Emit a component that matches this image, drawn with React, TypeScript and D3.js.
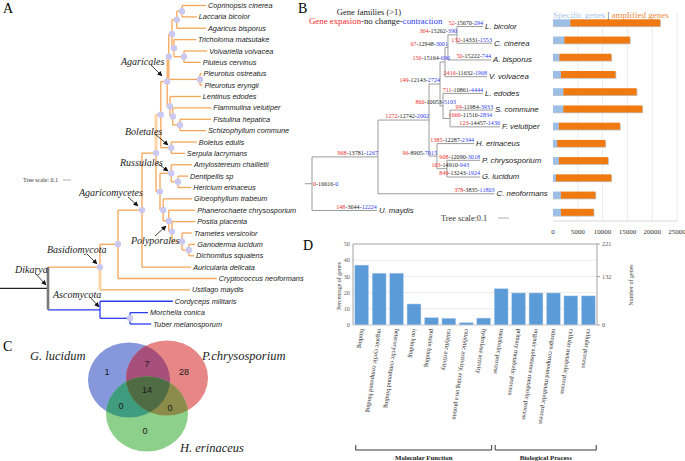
import React from 'react';
import * as d3 from 'd3';

const SERIF = "'Liberation Serif', 'Times New Roman', serif";
const SANS = "'Liberation Sans', Arial, sans-serif";

type Row = [string, string | null, number];

// ---------------- Panel A: phylogeny (id, parent, depth in tree units) ----------------
const treeA: Row[] = [
  ['root', null, 0],
  ['Dikarya', 'root', 0.6],
  ['Basidiomycota', 'Dikarya', 1.25],
  ['bN1', 'Basidiomycota', 1.475],
  ['Agaricomycetes', 'bN1', 1.775],
  ['aN156', 'Agaricomycetes', 1.95],
  ['aN161', 'aN156', 2.01],
  ['Agaricales', 'aN161', 2.09],
  ['agN169', 'Agaricales', 2.11],
  ['agN172', 'agN169', 2.15],
  ['agN177', 'agN172', 2.21],
  ['agN182', 'agN177', 2.275],
  ['Coprinopsis cinerea', 'agN182', 2.575],
  ['Laccaria bicolor', 'agN182', 2.46],
  ['Agaricus bisporus', 'agN177', 2.575],
  ['agN174', 'agN172', 2.175],
  ['Tricholoma matsutake', 'agN174', 2.45],
  ['agN184', 'agN174', 2.3],
  ['Volvariella volvacea', 'agN184', 2.59],
  ['Pluteus cervinus', 'agN184', 2.51],
  ['pleuro', 'agN169', 2.5],
  ['Pleurotus ostreatus', 'pleuro', 2.52],
  ['Pleurotus eryngii', 'pleuro', 2.53],
  ['agN170', 'Agaricales', 2.125],
  ['Lentinus edodes', 'agN170', 2.51],
  ['agN173', 'agN170', 2.16],
  ['Flammulina velutiper', 'agN173', 2.64],
  ['agN180', 'agN173', 2.25],
  ['Fistulina hepatica', 'agN180', 2.64],
  ['Schizophyllum commune', 'agN180', 2.575],
  ['Boletales', 'aN161', 2.14],
  ['Boletus edulis', 'Boletales', 2.46],
  ['Serpula lacrymans', 'Boletales', 2.31],
  ['aN160', 'aN156', 2.0],
  ['Russulales', 'aN160', 2.14],
  ['Amylostereum chailletii', 'Russulales', 2.4],
  ['ruN178', 'Russulales', 2.225],
  ['Dentipellis sp', 'ruN178', 2.35],
  ['Hericium erinaceus', 'ruN178', 2.39],
  ['poN163', 'aN160', 2.04],
  ['Gloeophyllum trabeum', 'poN163', 2.4],
  ['Polyporales', 'poN163', 2.11],
  ['Phanerochaete chrysosporium', 'Polyporales', 2.44],
  ['poN172', 'Polyporales', 2.15],
  ['Postia placenta', 'poN172', 2.44],
  ['poN182', 'poN172', 2.275],
  ['Trametes versicolor', 'poN182', 2.4],
  ['poN189', 'poN182', 2.36],
  ['Ganoderma lucidum', 'poN189', 2.44],
  ['Dichomitus squalens', 'poN189', 2.425],
  ['Auricularia delicata', 'Agaricomycetes', 2.39],
  ['Cryptococcus neoformans', 'bN1', 2.71],
  ['Ustilago maydis', 'Basidiomycota', 2.375],
  ['Ascomycota', 'Dikarya', 1.25],
  ['Cordyceps militaris', 'Ascomycota', 2.16],
  ['ascN', 'Ascomycota', 1.625],
  ['Morchella conica', 'ascN', 1.85],
  ['Tuber melanosporum', 'ascN', 1.89],
];
const noDotA = ['root', 'Dikarya', 'Ascomycota'];
const cladeLabels = ['Agaricales', 'Boletales', 'Russulales', 'Agaricomycetes', 'Polyporales', 'Basidiomycota', 'Dikarya', 'Ascomycota'];
// annotation layout: [textX, textY, arrowX1, arrowY1, arrowX2, arrowY2]
const cladeLabelPos: number[][] = [
  [121, 61, 151, 65, 162, 76],
  [125, 131, 155, 134, 168, 145],
  [120, 162, 157, 163, 168, 171],
  [79, 192, 128, 197, 138, 206],
  [131, 240, 155, 236, 166, 226],
  [47, 249, 87, 254, 97, 264],
  [15, 269, 35, 273, 46, 285],
  [53, 294, 90, 297, 99, 307],
];

// ---------------- Panel B: gene family tree (id, parent, depth) ----------------
const treeBRows: Row[] = [
  ['rootB', null, 0],
  ['bN968', 'rootB', 0.6],
  ['bN1272', 'bN968', 1.064],
  ['bN149', 'bN1272', 1.164],
  ['bN156', 'bN149', 1.209],
  ['bN67', 'bN156', 1.236],
  ['bN364', 'bN67', 1.318],
  ['L. bicolor', 'bN364', 1.555],
  ['C. cinerea', 'bN364', 1.636],
  ['A. bisporus', 'bN67', 1.627],
  ['V. volvacea', 'bN156', 1.591],
  ['bN860', 'bN149', 1.191],
  ['L. edodes', 'bN860', 1.555],
  ['bN1666', 'bN860', 1.255],
  ['S. commune', 'bN1666', 1.645],
  ['F. velutiper', 'bN1666', 1.709],
  ['bN96', 'bN1272', 1.136],
  ['H. erinaceus', 'bN96', 1.473],
  ['bN163', 'bN96', 1.227],
  ['P. chrysosporium', 'bN163', 1.527],
  ['G. lucidum', 'bN163', 1.527],
  ['C. neoformans', 'bN968', 1.66],
  ['U. maydis', 'rootB', 0.59],
];
const geneGain: Record<string, number> = {
  rootB: 0, bN968: 968, bN1272: 1272, bN149: 149, bN156: 156, bN67: 67, bN364: 364,
  'L. bicolor': 52, 'C. cinerea': 132, 'A. bisporus': 50, 'V. volvacea': 2416, bN860: 860,
  'L. edodes': 711, bN1666: 1666, 'S. commune': 99, 'F. velutiper': 123, bN96: 96,
  'H. erinaceus': 1385, bN163: 163, 'P. chrysosporium': 908, 'G. lucidum': 849,
  'C. neoformans': 378, 'U. maydis': 148,
};
const geneSame: Record<string, number> = {
  rootB: 16016, bN968: 13781, bN1272: 12742, bN149: 12143, bN156: 15164, bN67: 12948, bN364: 15262,
  'L. bicolor': 15670, 'C. cinerea': 14331, 'A. bisporus': 15222, 'V. volvacea': 11632, bN860: 10053,
  'L. edodes': 10861, bN1666: 11516, 'S. commune': 11984, 'F. velutiper': 14457, bN96: 8905,
  'H. erinaceus': 12287, bN163: 14910, 'P. chrysosporium': 12090, 'G. lucidum': 13243,
  'C. neoformans': 3835, 'U. maydis': 3644,
};
const geneLoss: Record<string, number> = {
  rootB: 0, bN968: 1267, bN1272: 2002, bN149: 2724, bN156: 696, bN67: 3001, bN364: 390,
  'L. bicolor': 294, 'C. cinerea': 1553, 'A. bisporus': 744, 'V. volvacea': 1968, bN860: 5103,
  'L. edodes': 4444, bN1666: 2834, 'S. commune': 3933, 'F. velutiper': 1436, bN96: 7015,
  'H. erinaceus': 2344, bN163: 943, 'P. chrysosporium': 3018, 'G. lucidum': 1924,
  'C. neoformans': 11803, 'U. maydis': 12224,
};
const bLabelShift: Record<string, number> = { bN860: 13, bN1666: 42, bN163: 22, bN156: 5 };

// Panel B bars
const barSpecies = ['L. bicolor', 'C. cinerea', 'A. bisporus', 'V. volvacea', 'L. edodes', 'S. commune',
  'F. velutiper', 'H. erinaceus', 'P. chrysosporium', 'G. lucidum', 'C. neoformans', 'U. maydis'];
const specificGenes = [3500, 2300, 1300, 1600, 2100, 2100, 1200, 850, 1200, 600, 1600, 1600];
const amplifiedGenes = [18100, 13200, 10450, 11000, 14750, 15900, 12300, 9700, 9900, 11150, 6950, 6600];
const barTicks = [0, 5000, 10000, 15000, 20000, 25000];

// ---------------- Panel C: Venn ----------------
const vennSets = ['G. lucidum', 'P.chrysosporium', 'H. erinaceus'];
const vennRegions = ['G', 'P', 'GP', 'GPH', 'GH', 'PH', 'H'];
const vennCounts = [1, 28, 7, 14, 0, 0, 0];
const vennLabelPos: number[][] = [[107, 372], [184, 372], [147, 364], [147, 390], [121, 406], [170, 408], [145, 431]];

// ---------------- Panel D: GO enrichment ----------------
const goTerms = ['binding', 'organic cyclic compound binding', 'heterocyclic compound binding', 'ion binding',
  'protein binding', 'catalytic activity', 'catalytic activity, acting on a protein', 'hydrolase activity',
  'metabolic process', 'primary metabolic process', 'organic substance metabolic process',
  'nitrogen compound metabolic process', 'cellular metabolic process', 'cellular process'];
const goPercent = [37, 32, 32, 13, 4.6, 4.2, 1.5, 4.3, 22.5, 19.8, 19.8, 19.8, 18, 18];
const goGroups = ['Molecular Function', 'Biological Process'];
const goGroupSizes = [8, 6];
const leftTicks = [0, 10, 20, 30, 40, 50];
const rightTicks = [0, 132, 221];

function buildTree(rows: Row[], xs: (v: number) => number, yRange: [number, number]) {
  const root: any = d3.stratify<Row>().id(d => d[0]).parentId(d => d[1])(rows);
  const leaves = root.leaves();
  const ys = d3.scalePoint<string>().domain(leaves.map((l: any) => l.id)).range(yRange);
  root.eachAfter((n: any) => {
    n.px = xs(n.data[2]);
    if (!n.children) n.py = ys(n.id);
    else n.py = (n.children[0].py + n.children[n.children.length - 1].py) / 2;
  });
  return root;
}

export default function App() {
  // ---- A ----
  const xA = d3.scaleLinear().domain([0, 3]).range([0, 240]);
  const rootA = buildTree(treeA, xA, [5.5, 324]);
  const nodesA: any[] = rootA.descendants();
  const ORANGE = '#f5a658';
  const BLUE = '#2b3ef2';
  const colA = (n: any) => (n.ancestors().some((a: any) => a.id === 'Ascomycota') ? BLUE : ORANGE);

  // ---- B ----
  const xB = d3.scaleLinear().domain([0, 1]).range([312, 422]);
  const rootB = buildTree(treeBRows, xB, [26.5, 210.5]);
  const nodesB: any[] = rootB.descendants();
  const xBar = d3.scaleLinear().domain([0, 25000]).range([553, 677]);
  const yBar = d3.scalePoint<string>().domain(barSpecies).range([22.8, 212.3]);

  // ---- D ----
  const xD = d3.scaleBand<string>().domain(goTerms).range([353, 597]).paddingInner(0.2).paddingOuter(0.1);
  const yD = d3.scaleLinear().domain([0, 50]).range([325, 244]);
  const yD2 = d3.scaleLinear().domain([0, 221]).range([325, 244]);

  const vennColors: Record<string, string> = {
    G: '#8697db', P: '#e78686', H: '#8dd08b', GP: '#a64f7b', GPH: '#4f6c45', GH: '#3f9c7e', PH: '#8b8c4a',
  };
  const ell = { G: [129, 380], P: [167, 378], H: [147, 414] } as Record<string, number[]>;
  const RX = 41, RY = 37.5;

  let groupStart = 0;

  return (
    <svg width={685} height={461} style={{ position: 'absolute', left: 0, top: 0, background: '#fff' }} fontFamily={SERIF}>
      <defs>
        <marker id="arr" viewBox="0 0 10 10" refX="9" refY="5" markerUnits="userSpaceOnUse" markerWidth="5" markerHeight="5" orient="auto">
          <path d="M0,0L10,5L0,10z" fill="#111" />
        </marker>
        <clipPath id="clipG"><ellipse cx={ell.G[0]} cy={ell.G[1]} rx={RX} ry={RY} /></clipPath>
        <clipPath id="clipP"><ellipse cx={ell.P[0]} cy={ell.P[1]} rx={RX} ry={RY} /></clipPath>
      </defs>
      <rect x={0} y={0} width={685} height={461} fill="#fff" />

      {/* ================= Panel A ================= */}
      <text x={3} y={12.5} fontSize={14}>A</text>
      <g>
        {nodesA.filter(n => n.id === 'Dikarya').map(n => (
          <line key="stub" x1={0} x2={n.px} y1={n.py} y2={n.py} stroke="#222" strokeWidth={1.2} />
        ))}
        {nodesA.filter(n => n.parent && n.parent.id !== 'root').map(n => (
          <line key={'h' + n.id} x1={n.parent.px} x2={n.px} y1={n.py} y2={n.py} stroke={colA(n)} strokeWidth={1.3} />
        ))}
        {nodesA.filter(n => n.children && n.id !== 'root').map(n => {
          const y1 = n.children[0].py, y2 = n.children[n.children.length - 1].py;
          if (n.id === 'Dikarya') return <line key={'v' + n.id} x1={n.px} x2={n.px} y1={y1} y2={y2} stroke="#7a7a7a" strokeWidth={2.6} />;
          if (n.id === 'Basidiomycota') return (
            <g key={'v' + n.id}>
              <line x1={n.px} x2={n.px} y1={y1} y2={n.py} stroke={ORANGE} strokeWidth={1.3} />
              <line x1={n.px} x2={n.px} y1={n.py} y2={y2} stroke="#fcd4a9" strokeWidth={3} />
            </g>
          );
          if (n.id === 'aN156') return (
            <g key={'v' + n.id}>
              <line x1={n.px} x2={n.px} y1={y1} y2={n.py} stroke="#fcd4a9" strokeWidth={3} />
              <line x1={n.px} x2={n.px} y1={n.py} y2={y2} stroke={ORANGE} strokeWidth={1.3} />
            </g>
          );
          return <line key={'v' + n.id} x1={n.px} x2={n.px} y1={y1} y2={y2} stroke={colA(n)} strokeWidth={1.3} />;
        })}
        {nodesA.filter(n => n.children && !noDotA.includes(n.id)).map(n => (
          <circle key={'d' + n.id} cx={n.px} cy={n.py} r={3.2} fill="#cbc8f2" />
        ))}
        {nodesA.filter(n => !n.children).map(n => (
          <text key={'l' + n.id} x={n.px + 2} y={n.py} dy="0.35em" fontSize={7.3} fontFamily={SANS} fontStyle="italic" fill="#222">{n.id}</text>
        ))}
        {cladeLabels.map((c, i) => {
          const p = cladeLabelPos[i];
          return (
            <g key={'c' + c}>
              <text x={p[0]} y={p[1]} dy="0.35em" fontSize={10} fontStyle="italic" fill="#222">{c}</text>
              <line x1={p[2]} y1={p[3]} x2={p[4]} y2={p[5]} stroke="#111" strokeWidth={0.8} markerEnd="url(#arr)" />
            </g>
          );
        })}
        <text x={23} y={180} dy="0.35em" fontSize={6} fill="#333">Tree scale: 0.1</text>
        <line x1={xA(0) + 63} x2={xA(0.1) + 63} y1={180} y2={180} stroke="#999" strokeWidth={0.8} />
      </g>

      {/* ================= Panel B ================= */}
      <text x={298} y={13} fontSize={14}>B</text>
      <text x={369} y={12} dy="0.35em" textAnchor="middle" fontSize={8.5} fill="#222">Gene families (&gt;1)</text>
      <text x={309} y={21} dy="0.35em" fontSize={8.8}>
        <tspan fill="#ee2b2b">Gene expasion</tspan>
        <tspan fill="#222">-no change-</tspan>
        <tspan fill="#2e3cf0">contraction</tspan>
      </text>
      <g>
        <line x1={rootB.px - 7} x2={rootB.px} y1={rootB.py} y2={rootB.py} stroke="#9c9c9c" strokeWidth={1} />
        {nodesB.filter(n => n.parent).map(n => (
          <line key={'bh' + n.id} x1={n.parent.px} x2={n.px} y1={n.py} y2={n.py} stroke="#9c9c9c" strokeWidth={1} />
        ))}
        {nodesB.filter(n => n.children).map(n => (
          <line key={'bv' + n.id} x1={n.px} x2={n.px} y1={n.children[0].py} y2={n.children[n.children.length - 1].py} stroke="#9c9c9c" strokeWidth={1} />
        ))}
        {nodesB.map(n => {
          const isRoot = !n.parent;
          const x = isRoot ? n.px + 1 : n.px + (bLabelShift[n.id] || 0);
          const y = isRoot ? n.py + 2 : n.py - 1.6;
          return (
            <text key={'bt' + n.id} x={x} y={y} fontSize={6.1} textAnchor={isRoot ? 'start' : 'end'}>
              <tspan fill="#ee2b2b">{geneGain[n.id]}</tspan>
              <tspan fill="#222">-{geneSame[n.id]}-</tspan>
              <tspan fill="#2e3cf0">{geneLoss[n.id]}</tspan>
            </text>
          );
        })}
        {nodesB.filter(n => !n.children).map(n => (
          <text key={'bl' + n.id} x={n.px + 2} y={n.py} dy="0.3em" fontSize={7.8} fontFamily={SANS} fontStyle="italic" fill="#222">{n.id}</text>
        ))}
        <text x={441} y={218} dy="0.35em" fontSize={8.3} fill="#333">Tree scale:0.1</text>
        <line x1={xB(0) + 186} x2={xB(0.1) + 186} y1={218} y2={218} stroke="#999" strokeWidth={0.8} />
      </g>
      <g>
        {barTicks.filter(t => t > 0).map(t => (
          <line key={'g' + t} x1={xBar(t)} x2={xBar(t)} y1={13} y2={221} stroke="#e6e6e6" strokeWidth={0.8} />
        ))}
        <line x1={xBar(0)} x2={xBar(25000)} y1={221} y2={221} stroke="#cfcfcf" strokeWidth={0.8} />
        {barSpecies.map((s, i) => {
          const y = (yBar(s) as number) - 3.5;
          const tot = specificGenes[i] + amplifiedGenes[i];
          return (
            <g key={'bar' + s}>
              <rect x={xBar(0)} y={y + 0.8} width={xBar(tot) - xBar(0) + 0.8} height={7} fill="#c4c4c4" />
              <rect x={xBar(0)} y={y} width={xBar(specificGenes[i]) - xBar(0)} height={7} fill="#9dbfe6" />
              <rect x={xBar(specificGenes[i])} y={y} width={xBar(tot) - xBar(specificGenes[i])} height={7} fill="#f07a12" />
            </g>
          );
        })}
        {barTicks.map(t => (
          <text key={'bt' + t} x={xBar(t)} y={232} dy="0.35em" textAnchor="middle" fontSize={7} fill="#333">{t}</text>
        ))}
        <text x={553} y={15} dy="0.35em" fontSize={9}>
          <tspan fill="#a9c5ea">Specific genes </tspan>
          <tspan fill="#111">|</tspan>
          <tspan fill="#f08a3c"> amplified genes</tspan>
        </text>
      </g>

      {/* ================= Panel C ================= */}
      <text x={3} y={351} fontSize={14}>C</text>
      <g>
        <ellipse cx={ell.G[0]} cy={ell.G[1]} rx={RX} ry={RY} fill={vennColors.G} />
        <ellipse cx={ell.P[0]} cy={ell.P[1]} rx={RX} ry={RY} fill={vennColors.P} />
        <g clipPath="url(#clipG)">
          <ellipse cx={ell.P[0]} cy={ell.P[1]} rx={RX} ry={RY} fill={vennColors.GP} />
        </g>
        <ellipse cx={ell.H[0]} cy={ell.H[1]} rx={RX} ry={RY} fill={vennColors.H} />
        <g clipPath="url(#clipG)">
          <ellipse cx={ell.H[0]} cy={ell.H[1]} rx={RX} ry={RY} fill={vennColors.GH} />
        </g>
        <g clipPath="url(#clipP)">
          <ellipse cx={ell.H[0]} cy={ell.H[1]} rx={RX} ry={RY} fill={vennColors.PH} />
        </g>
        <g clipPath="url(#clipG)">
          <g clipPath="url(#clipP)">
            <ellipse cx={ell.H[0]} cy={ell.H[1]} rx={RX} ry={RY} fill={vennColors.GPH} />
          </g>
        </g>
        {vennRegions.map((r, i) => (
          <text key={'v' + r} x={vennLabelPos[i][0]} y={vennLabelPos[i][1]} dy="0.35em" textAnchor="middle" fontSize={9} fontFamily={SANS} fill="#1a1a1a">{vennCounts[i]}</text>
        ))}
        <text x={30} y={356} dy="0.35em" fontSize={12.5} fontStyle="italic" fill="#222">{vennSets[0]}</text>
        <text x={202} y={356} dy="0.35em" fontSize={12.5} fontStyle="italic" fill="#222">{vennSets[1]}</text>
        <text x={180} y={448} dy="0.35em" fontSize={12.5} fontStyle="italic" fill="#222">{vennSets[2]}</text>
      </g>

      {/* ================= Panel D ================= */}
      <text x={303} y={250} fontSize={14}>D</text>
      <g>
        {leftTicks.filter(t => t > 0 && t < 50).map(t => (
          <line key={'dg' + t} x1={353} x2={597} y1={yD(t)} y2={yD(t)} stroke="#e6e6e6" strokeWidth={0.8} />
        ))}
        <line x1={353} x2={597} y1={yD(50)} y2={yD(50)} stroke="#8a8a8a" strokeWidth={0.8} />
        <line x1={353} x2={353} y1={yD(50)} y2={yD(0)} stroke="#8a8a8a" strokeWidth={0.8} />
        <line x1={597} x2={597} y1={yD(50)} y2={yD(0)} stroke="#8a8a8a" strokeWidth={0.8} />
        {goTerms.map((t, i) => (
          <rect key={'db' + t} x={xD(t)} y={yD(goPercent[i])} width={xD.bandwidth()} height={yD(0) - yD(goPercent[i])} fill="#5b9bd8" stroke="#cfe0f3" strokeWidth={0.5} />
        ))}
        <line x1={353} x2={597} y1={yD(0)} y2={yD(0)} stroke="#bdbdbd" strokeWidth={0.8} />
        {leftTicks.map(t => (
          <text key={'dl' + t} x={350} y={yD(t)} dy="0.35em" textAnchor="end" fontSize={6.3} fill="#666">{t}</text>
        ))}
        {rightTicks.map(t => (
          <g key={'dr' + t}>
            <line x1={597} x2={600} y1={yD2(t)} y2={yD2(t)} stroke="#8a8a8a" strokeWidth={0.8} />
            <text x={602} y={yD2(t)} dy="0.35em" fontSize={6.3} fill="#555">{t}</text>
          </g>
        ))}
        <text transform="translate(339,286) rotate(-90)" textAnchor="middle" dy="0.35em" fontSize={6} fill="#444">Percentage of genes</text>
        <text transform="translate(631,285) rotate(-90)" textAnchor="middle" dy="0.35em" fontSize={6} fill="#444">Number of genes</text>
        {goTerms.map(t => (
          <text key={'dx' + t} transform={`translate(${(xD(t) as number) + xD.bandwidth() / 2 + 1},329) rotate(98)`} dy="0.35em" fontSize={6.3} fill="#222">{t}</text>
        ))}
        {goGroups.map((g, gi) => {
          const s = groupStart;
          groupStart += goGroupSizes[gi];
          const x1 = (xD(goTerms[s]) as number) + 1;
          const x2 = (xD(goTerms[s + goGroupSizes[gi] - 1]) as number) + xD.bandwidth() + 1;
          return (
            <g key={'grp' + g}>
              <path d={`M${x1},445V450H${x2}V445`} fill="none" stroke="#222" strokeWidth={0.9} />
              <text x={(x1 + x2) / 2} y={458} dy="0.35em" textAnchor="middle" fontSize={6.8} fontWeight="bold" fill="#222">{g}</text>
            </g>
          );
        })}
      </g>
    </svg>
  );
}
